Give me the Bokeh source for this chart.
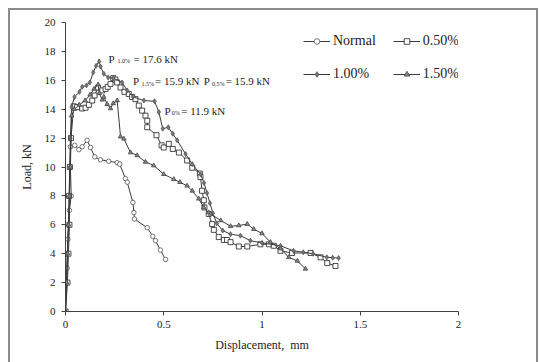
from bokeh.plotting import figure
from bokeh.models import Legend, LegendItem, Label, Range1d, FixedTicker
from bokeh.embed import file_html
from bokeh.resources import INLINE

# ---------------- data ----------------
normal_x = [0, 0.004, 0.008, 0.012, 0.02, 0.029, 0.025, 0.025, 0.047, 0.068, 0.085, 0.11, 0.127,
            0.149, 0.178, 0.22, 0.263, 0.276, 0.305, 0.314, 0.343, 0.348, 0.351, 0.416, 0.444,
            0.458, 0.483, 0.509]
normal_y = [0, 2, 3, 5, 7, 8, 10, 11.4, 11.5, 11.2, 11.4, 11.85, 11.35, 10.7, 10.5, 10.4, 10.3,
            10.2, 9.2, 8.95, 7.55, 6.85, 6.4, 5.8, 5.2, 4.9, 4.25, 3.6]

p05_x = [0, 0.01, 0.015, 0.02, 0.018, 0.022, 0.028, 0.042, 0.059, 0.085, 0.102, 0.119, 0.136,
         0.148, 0.166, 0.187, 0.204, 0.215, 0.229, 0.243, 0.254, 0.263, 0.28, 0.3, 0.322, 0.339,
         0.356, 0.373, 0.39, 0.407, 0.416, 0.416, 0.463, 0.489, 0.5, 0.526, 0.546, 0.577, 0.619,
         0.645, 0.684, 0.687, 0.695, 0.704, 0.707, 0.729, 0.746, 0.755, 0.78, 0.806, 0.822, 0.84,
         0.882, 0.925, 0.992, 1.035, 1.06, 1.094, 1.153, 1.247, 1.298, 1.332, 1.374]
p05_y = [0, 2, 4, 6, 8, 10, 12, 14.2, 14.15, 14.05, 14.1, 14.3, 14.6, 14.95, 15.5, 15.3, 15.4,
         15.55, 15.75, 16.15, 16.05, 15.85, 15.5, 15.2, 15.05, 14.85, 14.7, 14.25, 13.9, 13.55,
         13.2, 12.75, 12.2, 11.5, 11.35, 11.6, 11.25, 11.0, 10.45, 9.95, 9.55, 9.3, 8.35, 7.7,
         7.2, 6.75, 6.05, 5.65, 5.15, 4.95, 4.95, 4.8, 4.5, 4.5, 4.65, 4.65, 4.55, 4.2, 4.05,
         4.05, 3.75, 3.35, 3.15]

p10_x = [0, 0.005, 0.01, 0.015, 0.02, 0.022, 0.025, 0.031, 0.046, 0.071, 0.085, 0.107, 0.124,
         0.141, 0.156, 0.171, 0.178, 0.195, 0.217, 0.243, 0.288, 0.314, 0.344, 0.399, 0.453,
         0.475, 0.495, 0.523, 0.546, 0.568, 0.611, 0.645, 0.687, 0.705, 0.72, 0.735, 0.75, 0.77,
         0.8, 0.84, 0.89, 0.941, 1.0, 1.094, 1.16, 1.21, 1.26, 1.33, 1.36, 1.39]
p10_y = [0, 2, 4, 6, 8, 10, 12, 14.15, 14.85, 15.2, 15.55, 15.65, 15.85, 16.55, 17.0, 17.3,
         16.95, 16.45, 16.2, 16.15, 15.85, 15.3, 14.85, 14.6, 14.55, 13.8, 12.65, 12.75, 12.3,
         11.85, 10.9, 10.2, 9.5, 8.9, 8.2, 7.5, 6.8, 6.1, 5.6, 5.35, 5.25, 4.9, 4.75, 4.55, 4.2,
         4.1, 4.0, 3.75, 3.72, 3.7]

p15_x = [0, 0.005, 0.01, 0.015, 0.02, 0.025, 0.031, 0.045, 0.07, 0.1, 0.125, 0.145, 0.166,
         0.172, 0.187, 0.195, 0.212, 0.229, 0.243, 0.263, 0.28, 0.297, 0.331, 0.365, 0.407,
         0.449, 0.5, 0.551, 0.582, 0.619, 0.645, 0.678, 0.704, 0.729, 0.738, 0.79, 0.84, 0.882,
         0.925, 0.958, 1.0, 1.043, 1.094, 1.136, 1.18, 1.221]
p15_y = [0, 2, 4, 6, 8, 10, 13.55, 14.0, 14.3, 14.6, 15.0, 15.4, 15.7, 15.1, 14.65, 14.85,
         14.35, 14.05, 14.4, 14.6, 12.1, 11.95, 11.0, 10.8, 10.35, 10.1, 9.5, 9.15, 8.95, 8.7,
         8.35, 7.8, 7.2, 6.85, 6.75, 6.3, 5.9, 5.95, 6.05, 5.7, 5.4, 4.8, 4.35, 3.75, 3.5, 2.95]

series_names = ["Normal", "0.50%", "1.00%", "1.50%"]
x_ticks = [0, 0.5, 1, 1.5, 2]
x_tick_labels = ["0", "0.5", "1", "1.5", "2"]
y_ticks = [0, 2, 4, 6, 8, 10, 12, 14, 16, 18, 20]

# peak-load annotations
peak_subs = ["1.0%", "1.5%", "0.5%", "0%"]
peak_vals = ["= 17.6 kN", "= 15.9 kN", "= 15.9 kN", "= 11.9 kN"]

# ---------------- figure ----------------
FONT = "Liberation Serif"
W, H = 540, 362
p = figure(width=W, height=H, x_range=Range1d(0, 2), y_range=Range1d(0, 20),
           output_backend="svg", toolbar_location=None,
           min_border_left=65, min_border_right=82, min_border_top=22, min_border_bottom=51)
p.xgrid.visible = False
p.ygrid.visible = False
p.outline_line_color = None
p.background_fill_color = "white"
p.border_fill_alpha = 0
# outer chart-area border (left, top and right edges; bottom edge falls outside the window)
G = "linear-gradient(#8c8c8c, #8c8c8c)"
p.styles = {
    "background-color": "white",
    "background-image": f"{G}, {G}, {G}",
    "background-position": "8px 8px, 8px 8px, 536px 8px",
    "background-size": "2px 100%, 530px 2px, 2px 100%",
    "background-repeat": "no-repeat",
}

for ax in (p.xaxis, p.yaxis):
    ax.axis_line_color = "#404040"
    ax.major_tick_line_color = "#404040"
    ax.minor_tick_line_color = None
    ax.major_tick_out = 4
    ax.major_tick_in = 0
    ax.major_label_text_font = FONT
    ax.major_label_text_font_size = "11px"
    ax.major_label_text_color = "#222222"
    ax.axis_label_text_font = FONT
    ax.axis_label_text_font_size = "12px"
    ax.axis_label_text_font_style = "normal"
    ax.axis_label_text_color = "#222222"

p.xaxis.ticker = FixedTicker(ticks=x_ticks)
p.xaxis.major_label_overrides = {t: l for t, l in zip(x_ticks, x_tick_labels)}
p.yaxis.ticker = FixedTicker(ticks=y_ticks)
p.xaxis.axis_label = "Displacement,\u00a0 mm"
p.yaxis.axis_label = "Load, kN"
p.xaxis.major_label_standoff = 5
p.yaxis.major_label_standoff = 6
p.xaxis.axis_label_standoff = 7
p.yaxis.axis_label_standoff = 8

LINE = "#3a3a3a"
styles = [
    dict(marker="circle", size=4.5, fill_color="white", line_color="#555555"),
    dict(marker="square", size=5, fill_color="white", line_color="#222222"),
    dict(marker="diamond", size=5, fill_color="#777777", line_color="#555555"),
    dict(marker="triangle", size=4.5, fill_color="#888888", line_color="#444444"),
]
data = [(normal_x, normal_y), (p05_x, p05_y), (p10_x, p10_y), (p15_x, p15_y)]

items = {}
for name, (xs, ys), st in zip(series_names, data, styles):
    l = p.line(xs, ys, line_color=LINE, line_width=1)
    s = p.scatter(xs, ys, marker=st["marker"], size=st["size"], fill_color=st["fill_color"],
                  line_color=st["line_color"], line_width=0.8)
    items[name] = LegendItem(label=name, renderers=[l, s])

# legend is filled column by column: Normal/1.00% in col 1, 0.50%/1.50% in col 2
legend_order = ["Normal", "1.00%", "0.50%", "1.50%"]
legend = Legend(items=[items[n] for n in legend_order], location=(238, 229), ncols=2,
                padding=0, margin=0, border_line_color=None, background_fill_alpha=0,
                label_text_font=FONT, label_text_font_size="14px", label_text_color="#222222",
                glyph_width=27, glyph_height=14, label_height=14, label_standoff=3, spacing=17)
p.add_layout(legend, "center")

# annotation positions (data units): P x, subscript x, value x, baseline y
ann_pos = [(0.219, 0.264, 0.346, 17.49), (0.343, 0.387, 0.456, 15.92),
           (0.704, 0.746, 0.815, 15.92), (0.504, 0.541, 0.589, 13.91)]
for sub, val, (xp, xs_, xv, yb) in zip(peak_subs, peak_vals, ann_pos):
    p.add_layout(Label(x=xp, y=yb, text="P", text_font=FONT, text_font_size="11px",
                       text_color="#222222", text_baseline="alphabetic"))
    p.add_layout(Label(x=xs_, y=yb - 0.18, text=sub, text_font=FONT, text_font_size="6px",
                       text_color="#222222", text_baseline="alphabetic"))
    p.add_layout(Label(x=xv, y=yb, text=val, text_font=FONT, text_font_size="11px",
                       text_color="#222222", text_baseline="alphabetic"))

open("out.html", "w").write(file_html(p, INLINE))
